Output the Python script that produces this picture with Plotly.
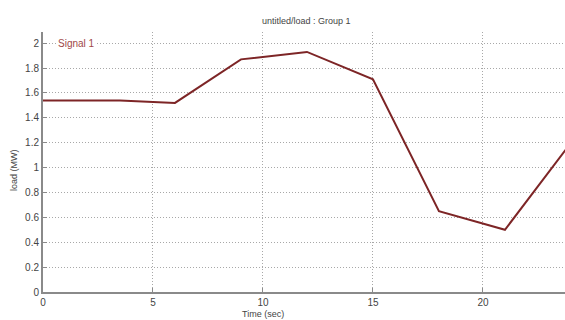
import plotly.graph_objects as go

# Load signal samples
time_sec = [0, 3.5, 6, 9, 12, 15, 18, 21, 24]
load_mw = [1.54, 1.54, 1.52, 1.87, 1.93, 1.71, 0.65, 0.50, 1.20]

x_ticks = [0, 5, 10, 15, 20]
y_ticks = [0, 0.2, 0.4, 0.6, 0.8, 1.0, 1.2, 1.4, 1.6, 1.8, 2.0]
y_tick_text = ["0", "0.2", "0.4", "0.6", "0.8", "1", "1.2", "1.4", "1.6", "1.8", "2"]

font_family = "Liberation Sans, Arial, sans-serif"
axis_grey = "#8a8a8a"
grid_grey = "#a8a8a8"
text_grey = "#444444"

fig = go.Figure()
fig.add_trace(go.Scatter(
    x=time_sec, y=load_mw, mode="lines",
    line=dict(color="#7d2526", width=2),
    name="Signal 1", showlegend=False,
))

fig.update_layout(
    width=565, height=320,
    margin=dict(l=43, r=0, t=32, b=28),
    paper_bgcolor="white", plot_bgcolor="white",
    font=dict(family=font_family, size=10, color=text_grey),
)

axis_style = dict(
    showline=True, linecolor=axis_grey, linewidth=2,
    ticks="inside", ticklen=4, tickcolor=axis_grey, tickwidth=1,
    showgrid=True, gridcolor=grid_grey, griddash="1px,2px", gridwidth=1,
    zeroline=False, tickfont=dict(size=10, color=text_grey),
)
fig.update_xaxes(range=[0, 23.73], tickvals=x_ticks, **axis_style)
fig.update_yaxes(range=[0, 2.09], tickvals=y_ticks, ticktext=y_tick_text,
                 **axis_style)

# Title, axis labels and signal label
fig.add_annotation(text="untitled/load : Group 1", xref="paper", yref="paper",
                   x=(306 - 43) / 522, y=1, yshift=18, showarrow=False,
                   font=dict(size=9, color=text_grey))
fig.add_annotation(text="Time (sec)", xref="x", yref="paper",
                   x=10, y=0, yshift=-15, yanchor="top", showarrow=False,
                   font=dict(size=9, color=text_grey))
fig.add_annotation(text="load (MW)", xref="paper", yref="paper",
                   x=0, xshift=-29, xanchor="center",
                   y=(292 - 170) / 260, textangle=-90,
                   showarrow=False, font=dict(size=9, color=text_grey))
fig.add_annotation(text="Signal 1", xref="paper", yref="y",
                   x=0, xshift=13, y=2.0, xanchor="left", showarrow=False,
                   bgcolor="white", font=dict(size=10, color="#a04848"))

fig.write_html("out.html")
